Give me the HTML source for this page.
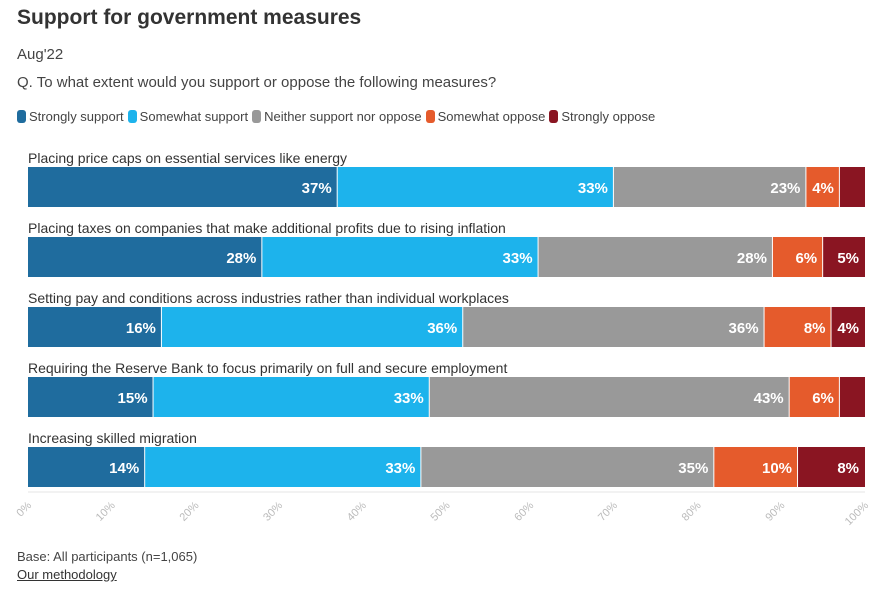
<!DOCTYPE html>
<html><head><meta charset="utf-8"><style>
body{margin:0;background:#fff;font-family:"Liberation Sans",sans-serif;color:#333;}
#wrap{position:relative;width:887px;height:596px;overflow:hidden;}
.t{position:absolute;white-space:nowrap;}
</style></head><body>
<div id="wrap">
<div class="t" style="left:17px;top:6px;font-size:21px;font-weight:bold;color:#333;">Support for government measures</div>
<div class="t" style="left:17px;top:46px;font-size:15px;color:#444;">Aug'22</div>
<div class="t" style="left:17px;top:74px;font-size:15px;color:#444;">Q. To what extent would you support or oppose the following measures?</div>
<div id="legend" style="position:absolute;left:17px;top:109px;font-size:13px;color:#444;display:flex;gap:4px;"></div>
<svg id="chart" width="887" height="596" style="position:absolute;left:0;top:0;font-family:'Liberation Sans',sans-serif;"></svg>
<div class="t" style="left:17px;top:549px;font-size:13px;color:#444;">Base: All participants (n=1,065)</div>
<div class="t" style="left:17px;top:567px;font-size:13px;color:#333;text-decoration:underline;">Our methodology</div>
</div>
<script>
const categories=["Placing price caps on essential services like energy","Placing taxes on companies that make additional profits due to rising inflation","Setting pay and conditions across industries rather than individual workplaces","Requiring the Reserve Bank to focus primarily on full and secure employment","Increasing skilled migration"];
const seriesNames=["Strongly support","Somewhat support","Neither support nor oppose","Somewhat oppose","Strongly oppose"];
const stronglySupport=[37,28,16,15,14];
const somewhatSupport=[33,33,36,33,33];
const neither=[23,28,36,43,35];
const somewhatOppose=[4,6,8,6,10];
const stronglyOppose=[3,5,4,3,8];
const tickValues=[0,10,20,30,40,50,60,70,80,90,100];
const colors=["#1f6c9e","#1db3ec","#999999","#e55b2c","#8a1522"];
const series=[stronglySupport,somewhatSupport,neither,somewhatOppose,stronglyOppose];
const NS="http://www.w3.org/2000/svg";
const svg=document.getElementById('chart');
const x0=28,x1=865;
function xs(v){return x0+(x1-x0)*v/100;}
function rowY(i){return 167+i*70;}
const lg=document.getElementById('legend');
seriesNames.forEach((n,k)=>{
  const s=document.createElement('span');
  
  
  s.style.display='flex';s.style.alignItems='center';
  s.innerHTML='<span style="display:inline-block;width:9px;height:13px;border-radius:3px;background:'+colors[k]+';margin-right:3px"></span>'+n;
  lg.appendChild(s);
});
function el(t,a){const e=document.createElementNS(NS,t);for(const k in a)e.setAttribute(k,a[k]);svg.appendChild(e);return e;}
const base=el('line',{x1:x0,x2:x1,y1:492,y2:492,stroke:'#e6e6e6'});


tickValues.forEach(v=>{
  const t=el('text',{x:xs(v)+4,y:506,'font-size':11,fill:'#bbb','text-anchor':'end',transform:'rotate(-45 '+(xs(v)+4)+' 506)'});
  
  
  t.textContent=v+'%';
});
categories.forEach((c,i)=>{
  const y=rowY(i);
  const lab=el('text',{x:x0,y:y-4,'font-size':14,fill:'#333'});
  
  
  lab.textContent=c;
  let acc=0;
  series.forEach((s,k)=>{
    const v=s[i];
    const r=el('rect',{x:xs(acc),y:y,width:xs(acc+v)-xs(acc)-(k<4?1:0),height:40,fill:colors[k]});
    
    
    acc+=v;
    if(v>=4){
      const tx=el('text',{x:xs(acc)-6,y:y+26,'font-size':15,'font-weight':'bold',fill:'#fff','text-anchor':'end'});
      
      
      tx.textContent=v+'%';
    }
  });
});
</script>
</body></html>
